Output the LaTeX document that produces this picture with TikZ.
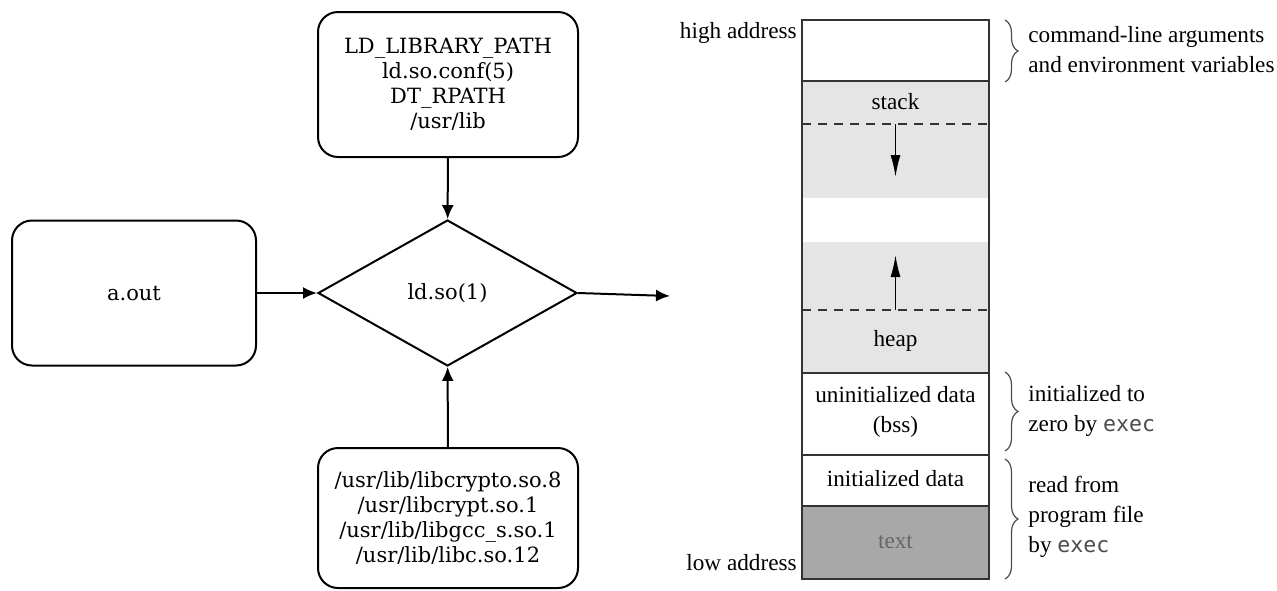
\documentclass[tikz,border=0pt]{standalone}
\usepackage{fontspec}
\setmainfont{Liberation Serif}
\setmonofont{DejaVu Sans Mono}
\newfontfamily\typefont{DejaVu Serif}
\usetikzlibrary{shapes.geometric,arrows.meta,decorations.pathreplacing}
\definecolor{segfill}{gray}{0.9}
\definecolor{textfill}{gray}{0.66}
\tikzset{
  ldbox/.style={draw,rounded corners=10pt,line width=1pt,align=center,inner sep=0pt,
    font=\typefont\fontsize{10.5}{12.6}\selectfont},
  lddiamond/.style={draw,diamond,line width=1pt,inner sep=0pt,
    minimum width=129.5pt,minimum height=73pt,font=\typefont\fontsize{10.5}{12.6}\selectfont},
  ldarrow/.style={-{Latex[length=7pt,width=6pt]},line width=1pt},
  memline/.style={line width=0.7pt,draw=black!80},
  memtext/.style={inner sep=0pt,font=\fontsize{11.6}{15}\selectfont},
  growarrow/.style={-{Latex[length=11pt,width=5pt]},line width=0.8pt},
  membrace/.style={decorate,decoration={brace,amplitude=6.5pt},line width=0.6pt,draw=black!70}
}
\newcommand{\cmdname}[1]{{\ttfamily\fontsize{10.8}{15}\selectfont\color{black!70}#1}}
\begin{document}
\begin{tikzpicture}[x=0.5pt,y=-0.5pt]
  \useasboundingbox (0,0) rectangle (1277,590);
  % left: the run-time linker
  \node[ldbox,minimum width=130pt,minimum height=72.5pt] (paths) at (448,84.5)
    {LD\_LIBRARY\_PATH\\ld.so.conf(5)\\DT\_RPATH\\/usr/lib};
  \node[ldbox,minimum width=122pt,minimum height=72.5pt] (aout) at (134,293) {a.out};
  \node[lddiamond] (ldso) at (447.5,293) {ld.so(1)};
  \node[ldbox,minimum width=130pt,minimum height=70pt] (libs) at (448,518)
    {/usr/lib/libcrypto.so.8\\/usr/libcrypt.so.1\\/usr/lib/libgcc\_s.so.1\\/usr/lib/libc.so.12};
  \coordinate (image) at (670,296);
  \draw[ldarrow] (paths) -- (ldso);
  \draw[ldarrow] (aout.east) -- (ldso.west);
  \draw[ldarrow] (libs) -- (ldso);
  \draw[ldarrow] (ldso.east) -- (image);
  % right: process memory layout
  \fill[segfill] (802,81) rectangle (989,198);
  \fill[segfill] (802,242) rectangle (989,373);
  \fill[textfill] (802,506) rectangle (989,579);
  \draw[memline] (802,20) rectangle (989,579);
  \draw[memline] (802,81) -- (989,81);
  \draw[memline] (802,373) -- (989,373);
  \draw[memline] (802,455) -- (989,455);
  \draw[memline] (802,506) -- (989,506);
  \draw[memline,dash pattern=on 4.5pt off 3.5pt] (802,124) -- (989,124);
  \draw[memline,dash pattern=on 4.5pt off 3.5pt] (802,310) -- (989,310);
  \node[memtext] (stack) at (895.5,102) {stack};
  \node[memtext] (heap) at (895.5,341) {heap};
  \node[memtext,align=center] (bss) at (895.5,412) {uninitialized data\\(bss)};
  \node[memtext] (data) at (895.5,479) {initialized data};
  \node[memtext,text=black!60] (text) at (895.5,542) {text};
  \node[memtext,anchor=east] (high) at (797,33) {high address};
  \node[memtext,anchor=east] (low) at (797,563) {low address};
  \coordinate (stacktop) at (895.5,124);
  \coordinate (stackend) at (895.5,177);
  \coordinate (heaptop) at (895.5,310);
  \coordinate (heapend) at (895.5,255);
  \draw[growarrow] (stacktop) -- (stackend);
  \draw[growarrow] (heaptop) -- (heapend);
  % braces and their notes
  \draw[membrace] (1005,20) -- (1005,82);
  \draw[membrace] (1005,372) -- (1005,451);
  \draw[membrace] (1005,459) -- (1005,579);
  \node[memtext,anchor=west,align=left] (args) at (1028,50)
    {command-line arguments\\and environment variables};
  \node[memtext,anchor=west,align=left] (zero) at (1028,411)
    {initialized to\\zero by \cmdname{exec}};
  \node[memtext,anchor=west,align=left] (file) at (1028,517)
    {read from\\program file\\by \cmdname{exec}};
\end{tikzpicture}
\end{document}
